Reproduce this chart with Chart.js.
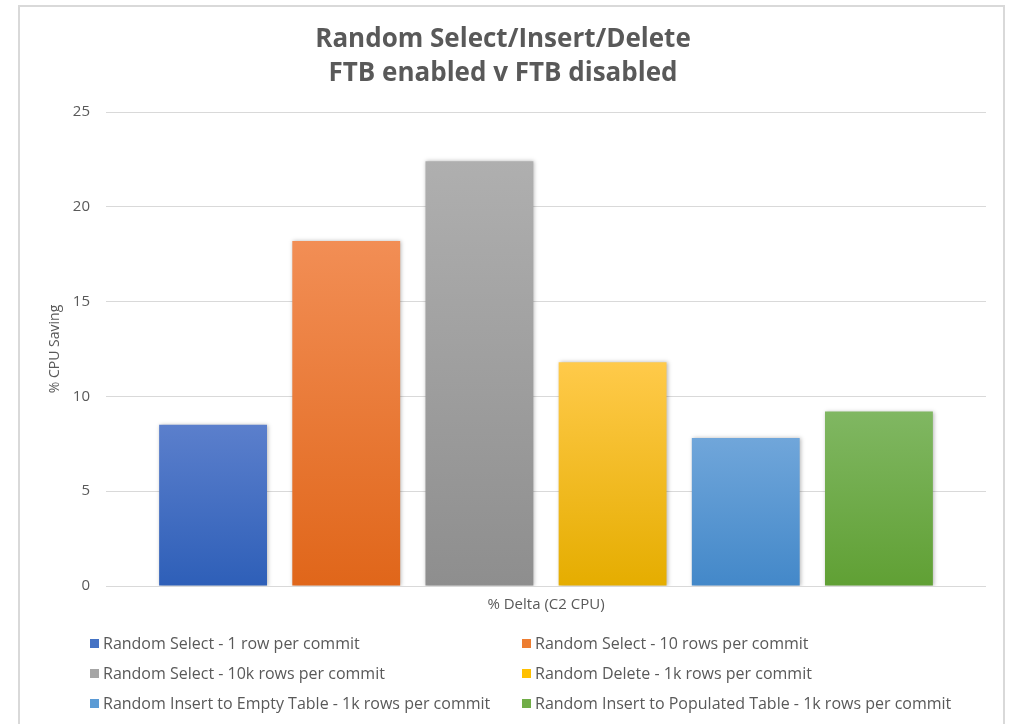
<!DOCTYPE html>
<html>
<head>
<meta charset="utf-8">
<script src="https://cdn.jsdelivr.net/npm/chart.js@4.4.0/dist/chart.umd.min.js"></script>
<style>
  html, body { margin: 0; padding: 0; background: #fff; overflow: hidden; }
  body { width: 1011px; height: 724px; position: relative; font-family: 'Open Sans', sans-serif; }
  #frame { position: absolute; left: 18px; top: 5px; width: 987px; height: 760px; box-sizing: border-box; border: 2px solid #d9d9d9; }
  #c { position: absolute; left: 0; top: 0; }
  #legend { position: absolute; left: 0; top: 0; width: 1011px; height: 724px; pointer-events: none; }
  .lg-item { position: absolute; display: flex; align-items: center; height: 20px; font-size: 16px; color: #595959; white-space: nowrap; }
  .lg-box { width: 9px; height: 9px; margin-right: 4px; }
</style>
</head>
<body>
<div id="frame"></div>
<canvas id="c" width="1011" height="630"></canvas>
<div id="legend"></div>
<script>
// ─── DATA ────────────────────────────────────────────────────────────────────
const categories = ['% Delta (C2 CPU)'];
const seriesNames = [
  'Random Select - 1 row per commit',
  'Random Select - 10 rows per commit',
  'Random Select - 10k rows per commit',
  'Random Delete - 1k rows per commit',
  'Random Insert to Empty Table - 1k rows per commit',
  'Random Insert to Populated Table - 1k rows per commit'
];
const cpuSaving = [8.5, 18.2, 22.4, 11.8, 7.8, 9.2];
const yTicks = [0, 5, 10, 15, 20, 25];

// top / bottom of each bar's gradient, plus flat legend colour
const gradTop = ['#5b7fcc', '#f28e55', '#afafaf', '#ffca4a', '#70a6da', '#80b762'];
const gradBottom = ['#2e5fb8', '#e0661a', '#8e8e8e', '#e5ad00', '#4388c9', '#60a034'];
const flatColors = ['#4472c4', '#ed7d31', '#a5a5a5', '#ffc000', '#5b9bd5', '#70ad47'];

Chart.defaults.font.family = "'Open Sans', sans-serif";
Chart.defaults.color = '#595959';

function barGradient(context, i) {
  const chart = context.chart;
  if (!chart.chartArea || context.raw === undefined) return flatColors[i];
  const y = chart.scales.y;
  const top = y.getPixelForValue(context.raw);
  const bot = y.getPixelForValue(0);
  const g = chart.ctx.createLinearGradient(0, top, 0, bot);
  g.addColorStop(0, gradTop[i]);
  g.addColorStop(1, gradBottom[i]);
  return g;
}

// soft shadow behind the bars, like the Office style
const barShadow = {
  id: 'barShadow',
  beforeDatasetsDraw(chart) {
    const ctx = chart.ctx;
    ctx.save();
    ctx.shadowColor = 'rgba(0,0,0,0.28)';
    ctx.shadowBlur = 4;
    ctx.shadowOffsetX = 1;
    ctx.shadowOffsetY = 0;
  },
  afterDatasetsDraw(chart) {
    chart.ctx.restore();
  }
};

const chart = new Chart(document.getElementById('c'), {
  type: 'bar',
  data: {
    labels: categories,
    datasets: seriesNames.map((name, i) => ({
      label: name,
      data: [cpuSaving[i]],
      backgroundColor: ctx => barGradient(ctx, i),
      borderWidth: 0,
      categoryPercentage: 0.908,
      barPercentage: 0.81
    }))
  },
  options: {
    responsive: false,
    animation: false,
    layout: { padding: { left: 20, right: 25, top: 5, bottom: 0 } },
    plugins: {
      legend: { display: false },
      tooltip: { enabled: false },
      title: {
        display: true,
        text: ['Random Select/Insert/Delete', 'FTB enabled v FTB disabled'],
        color: '#595959',
        font: { size: 26, weight: 'bold', lineHeight: 34 / 26 },
        padding: { top: 18, bottom: 21 }
      }
    },
    scales: {
      x: {
        grid: { display: false, drawTicks: false },
        border: { display: false },
        ticks: { padding: 10, font: { size: 15 }, color: '#595959' },
        afterFit: s => { s.height = 44; }
      },
      y: {
        min: 0,
        max: 25,
        afterBuildTicks: s => { s.ticks = yTicks.map(v => ({ value: v })); },
        grid: { color: '#d9d9d9', lineWidth: 1, drawTicks: false },
        border: { display: false },
        ticks: { padding: 16, font: { size: 15 }, color: '#595959' },
        title: {
          display: true,
          text: '% CPU Saving',
          color: '#595959',
          font: { size: 14 },
          padding: { top: 27, bottom: 0 }
        },
        afterFit: s => { s.width = 86; }
      }
    }
  },
  plugins: [barShadow]
});

// ─── LEGEND (2 columns, Excel style) ─────────────────────────────────────────
const legendEl = document.getElementById('legend');
const colX = [90, 522];
const rowY = [643, 673, 703];
legendEl.innerHTML = chart.data.datasets.map((d, i) => `
  <div class="lg-item" style="left:${colX[i % 2]}px; top:${rowY[Math.floor(i / 2)] - 10}px">
    <span class="lg-box" style="background:${flatColors[i]}"></span>${d.label}
  </div>
`).join('');
</script>
</body>
</html>
